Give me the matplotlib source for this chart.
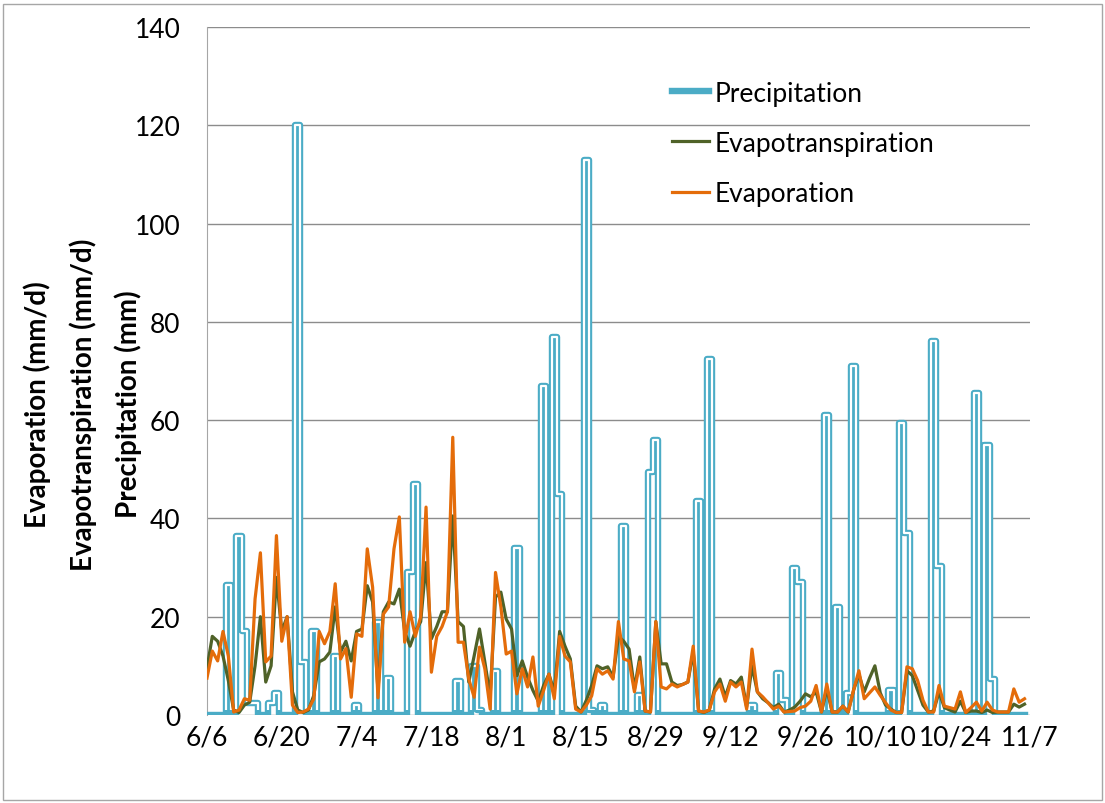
import matplotlib.pyplot as plt
import numpy as np
from matplotlib.patches import Rectangle

plt.rcParams['font.family'] = ['Lato', 'DejaVu Sans']

# daily series, 6/6 .. 11/6
ndays = 154
tick_labels = ['6/6', '6/20', '7/4', '7/18', '8/1', '8/15', '8/29',
               '9/12', '9/26', '10/10', '10/24', '11/7']

# precipitation (mm), days with rain only
rain_day = [4, 6, 7, 8, 9, 12, 13, 17, 18, 20, 24, 28, 32, 34, 38, 39,
            47, 50, 51, 54, 58, 63, 65, 66, 71, 72, 74, 78, 81, 83, 84,
            92, 94, 102, 107, 108, 110, 111, 116, 118, 120, 121, 128, 130,
            131, 136, 137, 144, 146, 147]
rain_mm = [26.5, 36.5, 17, 2.5, 2.5, 2.5, 4.5, 120, 10.8, 17, 12, 2, 19, 7.5, 29, 47,
           7, 10, 1, 9, 34, 67, 77, 45, 113, 1, 2, 38.5, 4, 49.5, 56,
           43.5, 72.5, 2, 8.5, 3, 30, 27, 61, 22, 4.5, 71, 5, 59.5,
           37, 76, 30.3, 65.5, 55, 7.3]

evap = [7.5, 13, 11, 17, 12, 0.6, 1, 3.3, 3, 23.6,
        33, 10.8, 12, 36.5, 15, 20, 2, 0.5, 0.6, 1.2,
        3.3, 17, 14.5, 17, 26.7, 11.4, 13.5, 3.6, 16.5, 16,
        33.8, 26, 3.5, 20.5, 22, 33.8, 40.3, 14.8, 21, 16,
        20, 42.3, 8.7, 16, 18, 21, 56.5, 14.8, 14.8, 7.3,
        3.6, 13.8, 9.4, 1.2, 29, 22, 12.4, 13, 4.3, 9.4,
        5.7, 11.8, 1.8, 5, 8.3, 3.3, 16, 12, 10.8, 1.2,
        0.6, 2, 3.9, 9.4, 8.3, 9, 7.3, 19, 11.4, 11,
        4.7, 10.8, 0.8, 0.6, 19, 5.7, 5.3, 6.3, 5.7, 6.2,
        6.7, 14, 0.8, 0.6, 1, 4.7, 6.3, 2.8, 6.7, 5.7,
        6.7, 1.2, 13.4, 4.7, 3.7, 2.5, 1.2, 1.8, 0.6, 0.7,
        0.8, 1.5, 1.8, 2.8, 6, 0.6, 6.3, 0.6, 0.6, 1.8,
        0.6, 5, 9, 3.3, 4.5, 5.7, 4, 2.5, 1, 0.5,
        0.5, 9.8, 9.4, 7, 3, 0.6, 0.6, 6, 1.8, 1.5,
        1.2, 4.7, 0.5, 1.5, 2.6, 0.8, 2.6, 1, 0.6, 0.6,
        0.6, 5.3, 2.6, 3.3]

evapotrans = [9.5, 16, 15, 12, 7, 1, 0.5, 2, 2.6, 10,
              20, 6.7, 10, 28, 17, 20, 4.7, 1, 0.5, 1,
              4, 10.8, 11.4, 12.8, 22, 12.8, 15, 11, 17, 17.5,
              26.3, 23, 5, 21, 23, 22.6, 25.6, 17, 14, 17,
              19, 31, 15.5, 18, 21, 21, 40.5, 19, 18, 6.7,
              12, 17.5, 10.8, 3.9, 24, 25, 19.5, 17.5, 8, 11,
              7.7, 5, 2.8, 6, 8.3, 4.7, 17, 14, 11.4, 1.8,
              0.6, 3, 6, 10, 9.4, 9.8, 7.7, 16, 15, 13.4,
              5.3, 11.8, 0.8, 0.6, 19, 10.4, 10.4, 6.7, 6, 6.2,
              6.7, 12.8, 0.8, 0.5, 1, 5.3, 7.3, 3.7, 7, 6.3,
              7.7, 1.6, 10, 4.7, 3.3, 2.5, 1.5, 2.2, 0.6, 1,
              1.6, 2.8, 4.3, 3.7, 4.7, 0.6, 5.3, 0.6, 0.6, 1.8,
              0.6, 5, 8.3, 4.7, 7.5, 10, 4.5, 2, 1.2, 0.5,
              0.5, 9, 8, 5, 2, 0.6, 0.8, 4.7, 1.5, 1,
              0.6, 2.8, 0.5, 0.8, 0.8, 0.5, 1, 0.5, 0.6, 0.6,
              0.6, 2.2, 1.6, 2.2]

days = np.arange(ndays)
precip = np.zeros(ndays)
precip[rain_day] = rain_mm

teal = '#4BACC6'
green = '#4F6228'
orange = '#E46C0A'

fig = plt.figure(figsize=(11.05, 8.04), dpi=100)
ax = fig.add_axes([0.1873, 0.1095, 0.7447, 0.8557])

# precipitation drawn as a hollow double line
ax.step(days, precip, where='mid', color=teal, lw=4.6, label='Precipitation', zorder=3)
inner, = ax.step(days, precip, where='mid', color='white', lw=1.6, zorder=3.1)
inner.set_clip_path(Rectangle((-1, 1.0), ndays + 2, 150, transform=ax.transData))

ax.plot(days, evapotrans, color=green, lw=2.3, label='Evapotranspiration', zorder=4)
ax.plot(days, evap, color=orange, lw=2.3, label='Evaporation', zorder=5)

ax.set_xlim(0, ndays)
ax.set_ylim(0, 140)
ax.set_yticks(np.arange(0, 141, 20))
ax.set_xticks(np.arange(0, ndays + 1, 14))
ax.set_xticklabels(tick_labels)
ax.tick_params(axis='both', length=0, labelsize=19, colors='#000000')
ax.tick_params(axis='y', pad=19)
ax.tick_params(axis='x', pad=7)
ax.grid(axis='y', color='#8c8c8c', lw=1.0)
ax.set_axisbelow(True)
for side in ['top', 'right', 'bottom']:
    ax.spines[side].set_visible(False)
ax.spines['left'].set_color('#a6a6a6')

fig.text(0.075, 0.497, 'Evaporation (mm/d)\nEvapotranspiration (mm/d)\nPrecipitation (mm)',
         rotation=90, ha='center', va='center', multialignment='center',
         fontsize=20, fontweight='bold', linespacing=1.8)

ax.legend(loc='upper left', bbox_to_anchor=(0.587, 0.928), bbox_transform=fig.transFigure,
          frameon=False, fontsize=19, handlelength=1.4, handletextpad=0.2,
          labelspacing=0.95)

fig.add_artist(Rectangle((0.003, 0.004), 0.994, 0.99, fill=False,
                         edgecolor='#a6a6a6', lw=1, transform=fig.transFigure))

fig.savefig('out.png', dpi=100)
